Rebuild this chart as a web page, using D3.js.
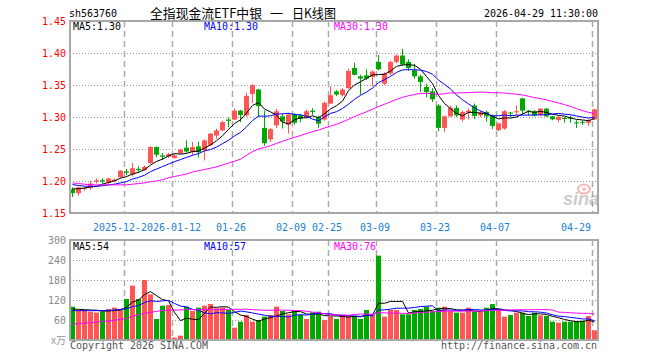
<!DOCTYPE html>
<html><head><meta charset="utf-8">
<script src="https://cdn.jsdelivr.net/npm/d3@7/dist/d3.min.js"></script>
<style>body{margin:0;background:#fff}svg{display:block}</style>
</head><body><svg id="c" width="660" height="360"></svg>
<script>
// ---------------- data ----------------
const dates = [
"2025-12-16","2025-12-17","2025-12-18","2025-12-19","2025-12-22","2025-12-23","2025-12-24","2025-12-25","2025-12-26",
"2025-12-29","2025-12-30","2025-12-31","2026-01-05","2026-01-06","2026-01-07","2026-01-08","2026-01-09",
"2026-01-12","2026-01-13","2026-01-14","2026-01-15","2026-01-16","2026-01-19","2026-01-20","2026-01-21","2026-01-22","2026-01-23",
"2026-01-26","2026-01-27","2026-01-28","2026-01-29","2026-01-30","2026-02-02","2026-02-03","2026-02-04","2026-02-05","2026-02-06",
"2026-02-09","2026-02-10","2026-02-11","2026-02-12","2026-02-13","2026-02-24","2026-02-25","2026-02-26","2026-02-27",
"2026-03-02","2026-03-03","2026-03-04","2026-03-05","2026-03-06","2026-03-09","2026-03-10","2026-03-11","2026-03-12","2026-03-13",
"2026-03-16","2026-03-17","2026-03-18","2026-03-19","2026-03-20","2026-03-23","2026-03-24","2026-03-25","2026-03-26","2026-03-27",
"2026-03-30","2026-03-31","2026-04-01","2026-04-02","2026-04-03","2026-04-07","2026-04-08","2026-04-09","2026-04-10",
"2026-04-13","2026-04-14","2026-04-15","2026-04-16","2026-04-17","2026-04-20","2026-04-21","2026-04-22","2026-04-23","2026-04-24",
"2026-04-27","2026-04-28","2026-04-29"];

const openP = [1.187,1.181,1.188,1.189,1.199,1.201,1.197,1.200,1.206,1.215,1.210,1.219,1.217,1.228,1.253,1.240,1.238,1.236,1.243,1.252,
1.245,1.254,1.248,1.256,1.271,1.279,1.296,1.296,1.310,1.3026,1.336,1.343,1.283,1.265,1.287,1.301,1.288,1.304,1.3026,1.300,
1.310,1.300,1.296,1.321,1.340,1.334,1.345,1.3766,1.3635,1.365,1.3625,1.386,1.352,1.368,1.386,1.396,1.386,1.373,1.3635,1.347,
1.340,1.318,1.283,1.301,1.314,1.296,1.3068,1.318,1.3026,1.308,1.3026,1.2795,1.282,1.307,1.308,1.329,1.310,1.309,1.3026,1.313,
1.301,1.2953,1.2985,1.299,1.2915,1.2925,1.291,1.2964];
const highP = [1.190,1.191,1.191,1.200,1.204,1.204,1.205,1.204,1.217,1.219,1.228,1.223,1.224,1.254,1.254,1.244,1.244,1.242,1.250,1.2635,
1.261,1.261,1.265,1.275,1.282,1.294,1.299,1.313,1.311,1.338,1.351,1.344,1.310,1.283,1.313,1.305,1.306,1.306,1.305,1.312,
1.314,1.302,1.324,1.348,1.342,1.345,1.3755,1.385,1.366,1.3745,1.373,1.397,1.370,1.388,1.398,1.4065,1.390,1.383,1.366,1.352,
1.345,1.320,1.302,1.318,1.318,1.310,1.313,1.321,1.310,1.310,1.304,1.291,1.311,1.308,1.318,1.330,1.311,1.311,1.314,1.314,
1.302,1.302,1.300,1.302,1.295,1.295,1.297,1.313];
const lowP = [1.175,1.177,1.185,1.186,1.196,1.196,1.195,1.198,1.205,1.209,1.207,1.213,1.216,1.227,1.237,1.233,1.236,1.235,1.242,1.244,
1.240,1.237,1.232,1.255,1.266,1.278,1.284,1.295,1.292,1.300,1.322,1.300,1.255,1.261,1.283,1.282,1.274,1.288,1.292,1.298,
1.3026,1.283,1.294,1.320,1.333,1.332,1.344,1.365,1.335,1.358,1.348,1.373,1.350,1.366,1.384,1.380,1.372,1.360,1.339,1.331,
1.3234,1.278,1.2766,1.300,1.300,1.293,1.296,1.297,1.300,1.293,1.281,1.278,1.280,1.300,1.303,1.3036,1.302,1.301,1.301,1.300,
1.295,1.292,1.291,1.291,1.283,1.2875,1.286,1.295];
const closeP = [1.181,1.190,1.189,1.196,1.201,1.199,1.204,1.202,1.216,1.213,1.220,1.217,1.222,1.253,1.241,1.238,1.242,1.240,1.249,1.246,
1.253,1.245,1.2635,1.274,1.279,1.292,1.294,1.310,1.303,1.333,1.350,1.317,1.259,1.281,1.309,1.293,1.304,1.291,1.297,1.309,
1.308,1.2896,1.322,1.334,1.335,1.343,1.372,1.366,1.360,1.360,1.371,1.3745,1.368,1.386,1.396,1.382,1.3766,1.3635,1.3547,1.339,
1.3276,1.283,1.301,1.3146,1.3026,1.308,1.310,1.3016,1.307,1.301,1.286,1.290,1.309,1.306,1.309,1.310,1.309,1.3026,1.313,1.301,
1.2964,1.300,1.297,1.298,1.290,1.292,1.2946,1.312];
const volume = [100,90,90,85,82,85,93,97,93,123,163,123,180,137,63,103,105,7,13,100,
87,97,103,108,95,97,90,37,55,75,55,60,70,75,100,87,77,87,75,63,
83,85,60,70,63,75,75,72,63,90,75,253,70,90,90,77,77,90,93,100,
87,97,100,87,82,82,97,85,85,97,108,93,70,75,82,82,72,82,74,72,
55,52,55,55,57,58,72,29];

// moving-average values shown before enough bars are in the window
const priceMA5Lead = [1.1875,1.188,1.189,1.191];
const priceMA10Lead = [1.1945,1.193,1.192,1.1915,1.192,1.1925,1.194,1.195,1.197];
const priceMA30Lead = [1.197,1.196,1.195,1.194,1.194,1.194,1.194,1.194,1.194,1.194,1.195,1.196,1.197,1.199,1.200,
1.202,1.205,1.207,1.209,1.211,1.214,1.216,1.218,1.220,1.222,1.225,1.228,1.231,1.234];
const volMA5Lead = [93,92,91,90];
const volMA10Lead = [88,88,88,88,88,88,89,90,92];
const volMA30Lead = [48,49,51,52,54,56,57,59,62,65,71,76,80,83,86,88,90,90,90,91,91,91,92,92,92,92,92,92,92];

const priceTicks = [1.15,1.20,1.25,1.30,1.35,1.40,1.45];
const volTicks = [60,120,180,240,300];
const tickDates = ["2025-12-29","2026-01-12","2026-01-26","2026-02-09","2026-02-25","2026-03-09","2026-03-23","2026-04-07","2026-04-29"];
const tickLabels = ["2025-12-29","2026-01-12","01-26","02-09","02-25","03-09","03-23","04-07","04-29"];
const priceLegend = ["MA5:1.30","MA10:1.30","MA30:1.30"];
const volLegend = ["MA5:54","MA10:57","MA30:76"];
const header = {code:"sh563760", title:["全指现金流ETF中银","一","日K线图"], time:"2026-04-29 11:30:00"};

// ---------------- drawing ----------------
const N = dates.length;
const L = 70, R = 598, PT = 21, PB = 213, VT = 240, VB = 340;
const RED = "#ff5555", GREEN = "#00a800";
const MONO = "DejaVu Sans Mono, Liberation Mono, monospace";
const CW = 6.0;

const svg = d3.select("#c");
const x = d3.scaleBand().domain(d3.range(N)).range([L, R]);
const y = d3.scaleLinear().domain([1.15, 1.45]).range([PB, PT]);
const yv = d3.scaleLinear().domain([0, 300]).range([VB, VT]);

function ma(vals, n, lead) {
  return vals.map((v, i) => i < n - 1 ? lead[i] : d3.mean(vals.slice(i - n + 1, i + 1)));
}
function mtext(g, str, px, py, fill, anchor) {
  return g.append("text").attr("x", px).attr("y", py).attr("fill", fill)
    .attr("font-family", MONO).attr("font-size", 10)
    .attr("text-anchor", anchor || "start")
    .attr("textLength", str.length * CW).attr("lengthAdjust", "spacingAndGlyphs")
    .text(str);
}

// grids
const grid = svg.append("g");
priceTicks.filter(t => t > 1.15 && t < 1.45).forEach(t => {
  grid.append("line").attr("x1", L).attr("x2", R).attr("y1", Math.round(y(t)) + 0.5).attr("y2", Math.round(y(t)) + 0.5)
    .attr("stroke", "#999").attr("stroke-dasharray", "1,2");
});
volTicks.filter(t => t < 300).forEach(t => {
  grid.append("line").attr("x1", L).attr("x2", R).attr("y1", Math.round(yv(t)) + 0.5).attr("y2", Math.round(yv(t)) + 0.5)
    .attr("stroke", "#999").attr("stroke-dasharray", "1,2");
});
const tickIdx = tickDates.map(d => dates.indexOf(d));
tickIdx.forEach(i => {
  const gx = x(i) + 0.5;
  [[PT, PB], [VT, VB]].forEach(([a, b]) => {
    grid.append("line").attr("x1", gx).attr("x2", gx).attr("y1", a).attr("y2", b)
      .attr("stroke", "#aaa").attr("stroke-width", 1.5).attr("stroke-dasharray", "6,4");
  });
});

// watermark
const wm = svg.append("g").attr("opacity", 0.5);
wm.append("text").attr("x", 563).attr("y", 205).attr("font-family", "Liberation Sans, Arial").attr("font-weight", "bold")
  .attr("font-style", "italic").attr("font-size", 18).attr("fill", "#9a9a9a").text("sina");
wm.append("ellipse").attr("cx", 584).attr("cy", 189).attr("rx", 6).attr("ry", 4.5).attr("fill", "none").attr("stroke", "#f07070").attr("stroke-width", 2);
wm.append("circle").attr("cx", 584).attr("cy", 189).attr("r", 1.8).attr("fill", "#f07070");

// candles + volume bars
const cg = svg.append("g");
d3.range(N).forEach(i => {
  const up = closeP[i] >= openP[i];
  const col = up ? RED : GREEN;
  cg.append("rect").attr("x", x(i) + 2).attr("width", 1).attr("y", y(highP[i]))
    .attr("height", Math.max(1, y(lowP[i]) - y(highP[i]))).attr("fill", col);
  const top = y(Math.max(openP[i], closeP[i])), bot = y(Math.min(openP[i], closeP[i]));
  cg.append("rect").attr("x", x(i)).attr("width", 5).attr("y", top)
    .attr("height", Math.max(1, bot - top)).attr("fill", col);
  cg.append("rect").attr("x", x(i)).attr("width", 5).attr("y", yv(volume[i]))
    .attr("height", VB - yv(volume[i])).attr("fill", col);
});

// MA lines
const cx = i => x(i) + 2.5;
const lines = [
  [ma(closeP, 5, priceMA5Lead), y, "#000"],
  [ma(closeP, 10, priceMA10Lead), y, "#0000ff"],
  [ma(closeP, 30, priceMA30Lead), y, "#ff00ff"],
  [ma(volume, 5, volMA5Lead), yv, "#000"],
  [ma(volume, 10, volMA10Lead), yv, "#0000ff"],
  [ma(volume, 30, volMA30Lead), yv, "#ff00ff"]
];
lines.forEach(([vals, sc, col]) => {
  svg.append("path").datum(vals)
    .attr("d", d3.line().x((d, i) => cx(i)).y(d => sc(d)))
    .attr("fill", "none").attr("stroke", col).attr("stroke-width", 1);
});

// frames
svg.append("rect").attr("x", L).attr("y", PT).attr("width", R - L).attr("height", PB - PT)
  .attr("fill", "none").attr("stroke", "#a8a8a8").attr("stroke-width", 2);
svg.append("rect").attr("x", L).attr("y", VT).attr("width", R - L).attr("height", VB - VT)
  .attr("fill", "none").attr("stroke", "#a8a8a8").attr("stroke-width", 2);

// axis labels
const tg = svg.append("g");
priceTicks.forEach(t => mtext(tg, t.toFixed(2), 66, y(t) + 3.5, "#ff0000", "end"));
volTicks.forEach(t => mtext(tg, String(t), 66, yv(t) + 3.5, "#888", "end"));
tg.append("text").attr("x", 66).attr("y", VB + 4).attr("text-anchor", "end").attr("fill", "#999")
  .attr("font-family", "Noto Sans CJK SC").attr("font-size", 10).text("x万");

// x labels: a later label hides the part of an earlier one that it overlaps
const placed = tickIdx.map((i, k) => {
  const s = tickLabels[k];
  const w = s.length * CW;
  let left = x(i) - 1 - w / 2;
  if (left + w > R - 6) left = x(i) - 1 - w;
  return {s, left};
});
placed.forEach((p, k) => {
  let s = p.s;
  const next = placed[k + 1];
  if (next && p.left + s.length * CW > next.left) {
    s = s.slice(0, Math.max(0, Math.floor((next.left - p.left) / CW + 0.01)));
  }
  if (s.length) mtext(tg, s, p.left, 231, "#1a7fd4", "start");
});

// header
mtext(tg, header.code, 69, 17, "#000");
const tParts = [[150, 112], [270, 13], [292, 44]];
header.title.forEach((s, k) => {
  tg.append("text").attr("x", tParts[k][0]).attr("y", 18).attr("font-family", "Noto Sans CJK SC").attr("font-size", 13)
    .attr("textLength", tParts[k][1]).attr("lengthAdjust", "spacingAndGlyphs").attr("fill", "#000").text(s);
});
mtext(tg, header.time, 598, 17, "#000", "end");

// legends
const legX = [73, 204, 334], legC = ["#000", "#0000ff", "#ff00ff"];
priceLegend.forEach((s, k) => mtext(tg, s, legX[k], 30, legC[k]));
volLegend.forEach((s, k) => mtext(tg, s, legX[k], 249.5, legC[k]));

// footer
mtext(tg, "Copyright 2026 SINA.COM", 70, 349, "#555");
mtext(tg, "http://finance.sina.com.cn", 597, 349, "#555", "end");
</script>
</body></html>
